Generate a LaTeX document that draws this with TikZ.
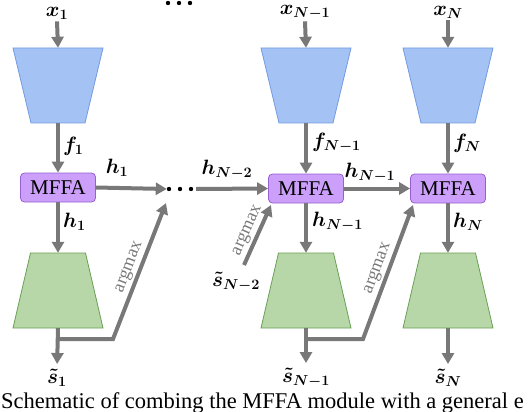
\documentclass[tikz,border=0pt]{standalone}
\usepackage[no-math]{fontspec}
\setmainfont{Liberation Serif}
\usetikzlibrary{arrows.meta,calc}
\definecolor{arr}{RGB}{120,120,120}
\definecolor{encfill}{RGB}{164,194,244}
\definecolor{encdraw}{RGB}{115,155,225}
\definecolor{decfill}{RGB}{183,215,168}
\definecolor{decdraw}{RGB}{105,160,85}
\definecolor{mffafill}{RGB}{204,160,250}
\definecolor{mffadraw}{RGB}{150,95,210}
\begin{document}
\begin{tikzpicture}[x=1pt,y=-1pt,
  lab/.style={font=\fontsize{22}{24}\selectfont\boldmath, inner sep=0pt},
  arrowline/.style={draw=arr, line width=4pt, -{Triangle[width=12pt,length=11pt]}},
  mffa/.style={draw=mffadraw, fill=mffafill, line width=0.8pt, rounded corners=4pt,
    minimum width=75pt, minimum height=29pt, inner sep=0pt, font=\fontsize{21}{24}\selectfont},
  enc/.style={draw=encdraw, fill=encfill, line width=0.8pt},
  dec/.style={draw=decdraw, fill=decfill, line width=0.8pt},
  box/.style={inner sep=0pt, minimum width=54pt, minimum height=75pt},
  dotbox/.style={inner sep=0pt, minimum width=26pt, minimum height=6pt},
  amx/.style={font=\fontsize{18}{20}\selectfont, text=arr, sloped, above, inner sep=2pt}]
\clip (0,0) rectangle (528,412);
% encoders and decoders
\foreach \c in {58,306,448}{
  \path[enc] (\c-45,48) -- (\c+45,48) -- (\c+27,123) -- (\c-27,123) -- cycle;
  \path[dec] (\c-27.5,253) -- (\c+27.5,253) -- (\c+45,328) -- (\c-45,328) -- cycle;
}
\node[box] (e1) at (58,85.5) {};
\node[box] (e2) at (306,85.5) {};
\node[box] (e3) at (448,85.5) {};
\node[box] (d1) at (58,290.5) {};
\node[box] (d2) at (306,290.5) {};
\node[box] (d3) at (448,290.5) {};
\node[mffa] (m1) at (58,187.5) {MFFA};
\node[mffa] (m2) at (306,188.5) {MFFA};
\node[mffa] (m3) at (448,188.5) {MFFA};
% inputs
\node[lab] (x1) at (57,13) {$x_1$};
\node[lab] (x2) at (305,12) {$x_{N-1}$};
\node[lab] (x3) at (448,12) {$x_N$};
% dots
\node[dotbox] (topdots) at (179,3) {};
\foreach \dx in {-11,0,11} \fill (179+\dx,3) circle (2.2pt);
\node[dotbox] (dots) at (180,189) {};
\foreach \dx in {-11,0,11} \fill (180+\dx,189) circle (2.2pt);
% outputs
\node[lab] (s1) at (57,378) {$\tilde{s}_1$};
\node[lab] (s2) at (306,378) {$\tilde{s}_{N-1}$};
\node[lab] (s3) at (448,378) {$\tilde{s}_N$};
\node[lab] (sp) at (236,282) {$\tilde{s}_{N-2}$};
% vertical arrows
\foreach \i in {1,2,3}{
  \draw[arrowline] (x\i.south) ++(0,2) -- (e\i.north);
  \draw[arrowline] (e\i.south) -- (m\i.north);
  \draw[arrowline] (m\i.south) -- (d\i.north);
  \draw[arrowline, shorten >=5pt] (d\i.south) -- (s\i.north);
}
% labels on vertical arrows
\node[lab, anchor=west] (f1) at (63,146) {$f_1$};
\node[lab, anchor=west] (f2) at (312,143) {$f_{N-1}$};
\node[lab, anchor=west] (f3) at (453,143) {$f_N$};
\node[lab, anchor=west] (hv1) at (63,222) {$h_1$};
\node[lab, anchor=west] (hv2) at (312,222) {$h_{N-1}$};
\node[lab, anchor=west] (hv3) at (453,222) {$h_N$};
% horizontal arrows
\draw[arrowline] (m1.east) -- (dots.west);
\draw[arrowline] (dots.east) ++(3,0) -- (m2.west);
\draw[arrowline] (m2.east) -- (m3.west);
\node[lab] (h1) at (117,168) {$h_1$};
\node[lab] (hn2) at (227,170) {$h_{N-2}$};
\node[lab] (hn1) at (370,173) {$h_{N-1}$};
% argmax feedback
\coordinate (a1s) at (58,339);
\coordinate (a1k) at (113,339);
\coordinate (a1e) at (166,203);
\draw[arrowline, line join=miter] (a1s) -- (a1k) -- node[amx, pos=0.5] {argmax} (a1e);
\coordinate (a2s) at (306,339);
\coordinate (a2k) at (363,339);
\coordinate (a2e) at (413,205);
\draw[arrowline, line join=miter] (a2s) -- (a2k) -- node[amx, pos=0.5] {argmax} (a2e);
\coordinate (a0s) at (244,265);
\coordinate (a0e) at (271,205);
\draw[arrowline] (a0s) -- node[amx, pos=0.5] {argmax} (a0e);
% caption
\node[anchor=base west, inner sep=0pt, font=\fontsize{22.5}{26}\selectfont] (cap) at (1,408)
  {Schematic of combing the MFFA module with a general e};
\end{tikzpicture}
\end{document}
